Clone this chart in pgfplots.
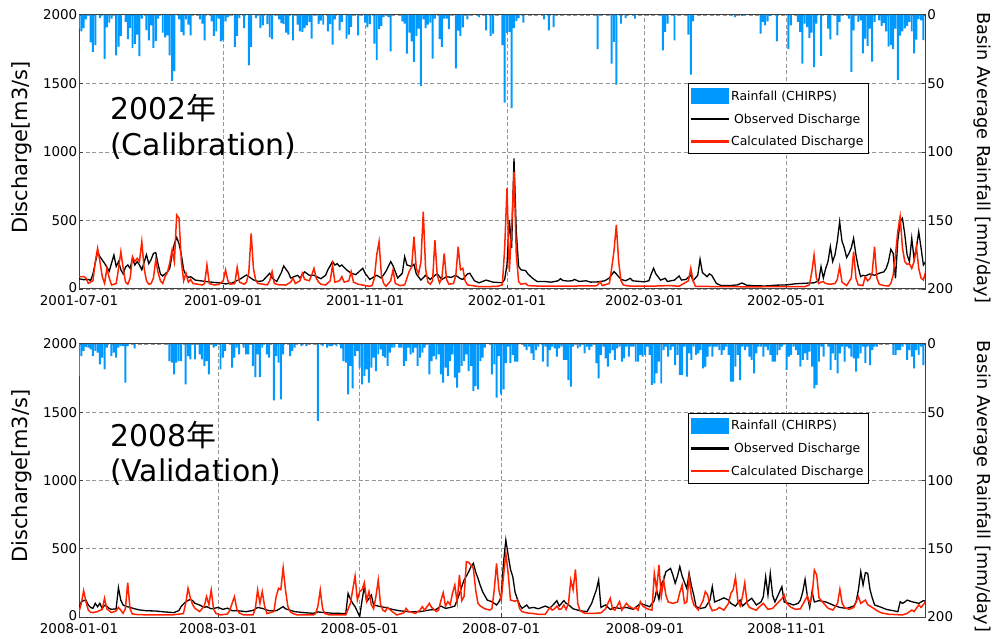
\documentclass[border=0pt]{standalone}
\usepackage{fontspec}
\setmainfont{DejaVu Sans}
\newfontfamily\cjk{Noto Sans CJK JP}
\usepackage{pgfplots}
\usepackage{pgfplotstable}
\pgfplotsset{compat=1.18}
\definecolor{rainblue}{RGB}{0,153,255}
\definecolor{calred}{RGB}{255,34,0}
\definecolor{gridgray}{RGB}{150,150,150}

% ---------------- 2002 (calibration) ----------------
\pgfplotstableread[row sep=\\]{x y\\0 10\\1 12\\2 9.5\\3 3.2\\5 20\\6 27\\7 22\\9 2.2\\11 32\\12 9\\13 5.6\\14 2.7\\16 29.4\\17 23\\18 15.3\\20 5.1\\21 17.7\\22 9.5\\23 24\\24 21\\25 14.3\\26 30\\27 2.7\\29 11\\30 18.5\\31 7.5\\32 24\\33 19\\34 2.7\\36 12.9\\37 16.3\\38 14.8\\39 29.4\\40 48\\41 41\\43 3.2\\44 12.4\\45 14.8\\46 3.2\\47 7\\48 14.8\\52 3.2\\53 6.3\\54 18.5\\57 4.6\\58 15.3\\59 11.9\\60 2.7\\61 19.2\\62 18.5\\63 4.6\\64 1.5\\67 23.3\\68 15.3\\69 2.2\\71 9.5\\73 36.7\\74 23.3\\76 2.2\\78 9.5\\79 7.5\\81 6.6\\82 16.3\\83 17.7\\86 3.2\\87 6\\88 6.6\\89 12.9\\90 14.3\\92 18.5\\94 7\\95 11.9\\96 12.4\\97 9.5\\98 7.5\\99 5.1\\100 17.3\\103 6.6\\104 4.1\\105 7\\107 11.9\\108 6.6\\109 21.6\\110 3.2\\112 11.2\\113 5.1\\115 17.3\\116 14.3\\117 8.7\\120 14.8\\123 5.6\\124 9\\125 6.6\\127 20.9\\128 33\\129 10.4\\130 8\\131 1.5\\133 1.5\\134 26.5\\139 4.6\\140 6.3\\141 28.2\\142 12.9\\143 19.2\\144 34.3\\145 15.3\\146 9.9\\147 52\\148 3.2\\149 9.5\\150 7\\151 5.6\\152 31.8\\153 2.7\\155 17.7\\156 23.3\\157 2.7\\158 2.7\\159 10.4\\162 39\\163 11.4\\164 15.3\\165 9\\167 3.2\\172 1.5\\175 11.2\\177 15.3\\178 13.6\\182 22\\183 64\\184 13\\185 12.4\\186 68\\187 9.5\\188 4.4\\189 2.2\\191 5.6\\200 3.2\\202 11.2\\204 8.8\\223 25\\229 35.5\\230 19.7\\231 50.8\\233 6.3\\235 2.2\\239 2.7\\251 25.8\\252 12.4\\253 6.3\\256 18.5\\262 14.4\\263 43.6\\264 4.6\\282 1.5\\285 0.7\\293 13.6\\294 5.1\\295 7.5\\296 4.6\\297 0.7\\300 19.3\\305 25\\306 7.5\\309 5.1\\310 12.4\\311 35.5\\312 6.3\\313 8.8\\314 16.8\\315 12.9\\316 38\\317 6.3\\319 29.9\\322 10\\323 17.8\\326 14.8\\327 5.1\\331 2.7\\332 41.6\\333 11.2\\335 5.1\\336 3.9\\337 28\\338 17.3\\339 22.6\\340 10\\341 34\\342 5\\344 4\\345 8\\346 6\\347 12\\348 23\\349 22\\350 25\\351 10\\352 47.5\\353 15\\354 12\\355 9.7\\356 8\\357 5\\358 12\\359 28\\360 18\\361 3\\362 4\\363 18.3\\}\rainA

\pgfplotstableread[row sep=\\]{x y\\0 75\\2 68\\4 70\\5 62\\6 110\\8 270\\9 236\\11 187\\13 130\\15 248\\16 165\\17 200\\18 140\\19 110\\20 160\\21 175\\22 150\\23 224\\24 175\\25 200\\26 175\\27 140\\29 250\\30 185\\31 215\\32 260\\33 265\\34 180\\35 110\\36 95\\37 110\\38 125\\39 150\\40 250\\41 330\\42 377\\43 330\\44 250\\45 140\\46 100\\47 85\\48 90\\50 65\\54 56\\58 48\\61 44\\63 37\\66 45\\69 70\\72 102\\75 66\\77 55\\79 60\\82 115\\83 80\\85 55\\87 120\\88 168\\90 120\\91 80\\94 100\\95 80\\97 125\\99 100\\101 100\\104 75\\106 100\\107 140\\109 200\\110 175\\111 185\\112 165\\113 175\\115 140\\117 115\\119 105\\122 151\\123 115\\125 70\\128 100\\130 80\\132 130\\134 200\\135 170\\137 80\\139 115\\140 236\\141 175\\143 165\\144 180\\145 110\\147 65\\149 100\\151 70\\153 100\\154 110\\156 70\\158 90\\160 85\\162 100\\164 75\\165 70\\167 110\\168 115\\170 60\\172 45\\175 65\\178 50\\182 46\\183 70\\184 180\\185 504\\186 300\\187 954\\188 420\\189 165\\190 140\\192 134\\193 110\\195 78\\197 54\\200 55\\203 50\\206 60\\207 75\\208 62\\210 58\\212 60\\213 70\\215 55\\218 60\\220 50\\223 52\\226 60\\228 80\\230 127\\231 110\\233 70\\235 60\\237 78\\238 60\\241 55\\243 52\\245 60\\246 110\\247 151\\248 110\\250 65\\252 78\\253 55\\256 65\\258 95\\259 65\\261 70\\263 102\\264 60\\266 100\\267 217\\268 120\\270 90\\271 110\\272 100\\274 41\\276 25\\280 25\\283 30\\285 44\\287 28\\290 24\\295 22\\300 28\\304 30\\308 38\\312 42\\316 45\\318 60\\319 163\\320 80\\321 150\\322 200\\323 309\\324 200\\325 250\\326 350\\327 491\\328 350\\329 300\\330 230\\331 260\\332 300\\333 370\\334 250\\335 160\\336 90\\337 100\\338 95\\340 110\\342 100\\344 115\\346 125\\347 150\\348 200\\349 290\\350 260\\351 78\\352 350\\353 491\\354 516\\355 400\\356 250\\357 200\\358 370\\359 220\\360 300\\361 418\\362 300\\363 175\\364 200\\}\obsA

\pgfplotstableread[row sep=\\]{x y\\0 90\\2 90\\3 80\\4 41\\6 60\\7 200\\8 297\\9 200\\10 90\\11 41\\12 151\\13 80\\14 29\\16 40\\17 150\\18 272\\19 150\\20 50\\21 35\\22 80\\23 236\\24 200\\25 224\\26 200\\27 346\\28 150\\29 60\\30 35\\31 40\\32 80\\33 212\\34 120\\35 60\\36 40\\37 90\\38 120\\39 190\\40 285\\41 200\\42 540\\43 516\\44 200\\45 60\\46 115\\47 50\\48 70\\49 40\\51 35\\53 29\\54 40\\55 175\\56 40\\58 30\\60 32\\62 60\\63 139\\64 60\\65 35\\67 40\\68 158\\69 50\\71 35\\72 50\\73 120\\74 406\\75 150\\76 60\\77 40\\79 35\\81 30\\82 60\\83 127\\84 40\\86 30\\89 29\\91 50\\92 78\\93 40\\95 60\\96 115\\97 70\\99 60\\100 100\\101 151\\102 80\\103 50\\104 35\\106 29\\108 60\\109 175\\110 50\\112 60\\113 90\\114 50\\116 60\\117 127\\118 50\\120 35\\123 25\\125 20\\126 25\\127 80\\128 250\\129 346\\130 100\\131 40\\132 20\\134 60\\135 139\\136 40\\138 25\\140 30\\141 80\\142 130\\143 160\\144 382\\145 150\\146 110\\147 200\\148 564\\149 150\\150 50\\151 35\\152 60\\153 357\\154 100\\155 45\\156 80\\157 260\\158 70\\159 35\\161 40\\162 100\\163 309\\164 140\\165 151\\166 60\\167 30\\169 25\\172 17\\176 17\\180 20\\182 30\\183 300\\184 735\\185 126\\186 450\\187 856\\188 250\\189 53\\190 35\\192 41\\193 25\\196 22\\205 20\\215 22\\222 22\\223 30\\224 53\\225 25\\228 40\\229 151\\230 280\\231 467\\232 200\\233 60\\234 30\\236 22\\245 20\\254 25\\258 20\\262 60\\263 151\\264 60\\265 20\\275 17\\290 16\\300 17\\312 17\\314 30\\315 120\\316 248\\317 80\\318 40\\319 50\\320 53\\321 40\\323 35\\325 40\\326 70\\327 163\\328 50\\330 25\\332 80\\333 272\\334 80\\335 30\\337 25\\338 90\\339 60\\340 75\\341 120\\342 309\\343 80\\344 35\\346 25\\348 22\\349 40\\350 100\\351 250\\352 420\\353 528\\354 300\\355 200\\356 180\\357 185\\358 150\\359 200\\360 309\\361 150\\362 80\\363 66\\364 127\\}\calA

% ---------------- 2008 (validation) ----------------
\pgfplotstableread[row sep=\\]{x y\\0 23.4\\1 8.8\\2 5.1\\3 2.2\\4 2.7\\5 3.9\\6 8.8\\7 5.1\\8 6.3\\9 15\\10 10\\11 18.6\\12 2.7\\14 8.8\\15 6.3\\16 10\\17 2.7\\18 1.5\\19 1.5\\20 28.3\\21 1.5\\24 3.2\\39 12.5\\40 13.7\\41 22.2\\42 13.7\\43 12.5\\44 12.5\\46 29.5\\47 8.8\\48 11.2\\50 11.2\\52 7.6\\53 11.2\\54 16.1\\55 12.5\\56 22.2\\58 2.7\\59 1.5\\61 18.6\\62 10\\63 5.1\\66 17.3\\67 10\\68 2.7\\69 7.6\\71 2.7\\72 7.6\\73 7.6\\75 16.1\\76 24.2\\77 7.6\\78 24.2\\79 2.7\\81 7.6\\82 10\\84 41.3\\85 8.8\\86 13.7\\87 40.5\\88 7.6\\91 8.8\\92 5.1\\93 2.7\\96 1.5\\98 1.5\\103 56.4\\105 1.5\\107 2.7\\108 1.5\\109 1.5\\111 1.5\\113 3.2\\114 12.5\\115 13.7\\116 36.9\\117 16.1\\118 32.5\\119 8.8\\120 5.1\\121 17.3\\122 29.5\\123 23.4\\124 18.6\\125 28.3\\126 17.3\\127 10\\128 19.8\\129 7.6\\130 3.9\\131 8.8\\132 10\\133 16.1\\134 6.3\\135 2.7\\136 2.7\\138 2.7\\139 2.7\\140 16.1\\141 12.5\\142 2.7\\143 7.6\\144 6.3\\145 2.7\\146 16.1\\147 10\\148 6.3\\149 2.7\\151 22.2\\152 12.5\\153 8.8\\154 11.2\\155 7.6\\156 22.2\\157 28.3\\158 17.3\\159 23.4\\160 12.5\\161 7.6\\162 24.7\\163 32\\164 21\\165 16.1\\166 12.5\\167 7.6\\168 19.8\\169 16.1\\170 34.4\\171 30.8\\172 33.2\\173 12.5\\174 10\\175 2.7\\178 22.2\\179 14.9\\180 39.3\\181 8.8\\182 36.9\\183 33.2\\184 14.1\\185 2\\186 14.1\\187 8\\188 12.9\\189 12.9\\192 2\\193 4.4\\194 2\\195 6.8\\196 11.7\\197 4.4\\198 2\\200 12.9\\201 2\\202 16.6\\203 4.4\\204 2\\205 3.2\\206 9.3\\207 3.2\\208 2\\209 11.7\\210 11.7\\211 26.4\\212 31.2\\213 2\\215 3.2\\216 2\\218 6.8\\219 2\\220 4.4\\221 2\\223 14.1\\224 25.1\\225 8\\226 2\\227 10.5\\228 16.6\\229 6.8\\230 4.4\\231 11.7\\232 3.2\\233 2\\234 12.9\\235 10.5\\236 2\\237 9.3\\238 2\\239 2\\240 12.9\\241 12.9\\242 8\\243 9.3\\244 8\\245 2\\246 8\\247 30\\248 28.8\\249 21.5\\250 12.9\\251 28.8\\252 4.4\\253 2\\254 9.3\\255 4.4\\256 2\\257 15.4\\258 8\\259 22.7\\260 22.7\\261 2\\262 23.9\\263 6.8\\264 11.7\\265 2\\266 8\\267 6.8\\268 4.4\\269 17.8\\270 16.6\\271 9.3\\272 2\\273 9.3\\274 2\\275 2\\276 4.4\\277 8\\278 4.4\\279 2\\280 8\\281 27.6\\282 27.6\\283 16.6\\284 8\\285 26.4\\286 2\\287 4.4\\288 2\\289 9.3\\290 11.7\\291 21.5\\292 6.8\\293 2\\294 2\\295 9.3\\296 2\\297 4.4\\298 8\\299 12.9\\300 12.9\\301 8\\302 4.4\\303 2\\305 19\\306 9.3\\307 8\\308 2\\309 4.4\\310 8\\311 16.6\\312 11.7\\313 6.8\\314 11.7\\315 5.6\\316 16.6\\317 32.5\\318 30\\319 12.9\\320 2\\321 9.3\\323 2\\324 19\\325 6.8\\326 11.7\\327 21.5\\328 6.8\\329 2\\330 12.9\\331 2\\332 3.2\\333 9.3\\334 10.5\\335 20.3\\336 10.5\\337 6.8\\338 2\\339 14.1\\340 2\\341 15.4\\342 4.4\\343 2\\344 2\\351 8\\352 8\\353 4.4\\354 4.4\\355 2\\357 11.7\\358 4.4\\359 9.3\\360 17.8\\361 4.4\\362 8\\363 2\\364 15.4\\}\rainB

\pgfplotstableread[row sep=\\]{x y\\0 63\\1 112\\2 120\\3 124\\4 88\\5 70\\6 63\\7 100\\8 75\\9 100\\10 63\\11 85\\12 80\\13 63\\14 56\\16 60\\17 215\\18 124\\19 88\\20 80\\22 70\\24 60\\26 52\\29 46\\33 44\\37 37\\41 32\\42 40\\43 46\\44 76\\45 95\\46 112\\48 129\\49 120\\50 100\\52 88\\54 70\\55 76\\57 60\\58 63\\60 70\\62 56\\64 65\\66 46\\69 45\\72 39\\75 48\\77 70\\79 63\\82 46\\85 46\\86 55\\88 76\\89 60\\91 50\\93 39\\97 32\\101 27\\103 37\\106 32\\109 28\\112 27\\115 24\\116 173\\117 130\\118 100\\119 76\\120 40\\121 3\\122 120\\123 222\\124 112\\125 135\\126 161\\127 88\\129 80\\130 76\\132 70\\135 56\\138 46\\142 39\\147 39\\151 51\\154 56\\156 80\\158 63\\160 70\\162 80\\163 124\\164 170\\165 222\\166 271\\167 300\\168 332\\169 370\\170 393\\171 330\\172 283\\173 230\\174 185\\176 124\\178 112\\180 88\\181 110\\182 149\\183 400\\184 564\\185 454\\186 350\\187 295\\188 180\\189 130\\190 88\\191 63\\193 88\\194 65\\196 70\\198 60\\201 80\\203 65\\205 100\\206 120\\207 80\\209 120\\210 100\\211 90\\213 60\\216 46\\219 39\\221 100\\222 150\\223 198\\224 271\\225 70\\226 80\\227 88\\229 55\\231 70\\233 63\\236 70\\239 56\\242 100\\244 88\\246 75\\248 120\\249 198\\250 130\\251 240\\252 271\\253 332\\255 356\\256 308\\257 247\\258 300\\259 369\\260 300\\262 210\\263 320\\264 230\\265 161\\266 76\\268 63\\270 70\\272 124\\273 222\\274 110\\276 124\\278 140\\280 124\\281 100\\283 80\\285 124\\286 80\\288 112\\290 137\\292 88\\294 110\\295 149\\296 295\\297 160\\298 320\\299 160\\300 110\\303 222\\304 110\\306 100\\308 88\\310 100\\311 124\\312 185\\313 276\\314 150\\315 70\\316 185\\317 110\\319 120\\322 110\\325 88\\328 70\\331 63\\334 80\\335 112\\336 200\\337 332\\338 234\\339 325\\340 320\\341 200\\342 137\\343 88\\346 70\\348 56\\351 46\\353 39\\354 112\\355 100\\356 110\\357 124\\359 112\\362 100\\364 120\\365 115\\}\obsB

\pgfplotstableread[row sep=\\]{x y\\0 39\\1 100\\2 193\\3 112\\4 51\\5 35\\6 32\\8 40\\10 56\\11 137\\12 60\\14 32\\16 45\\17 70\\18 50\\19 27\\20 60\\21 251\\22 60\\23 22\\25 18\\30 15\\40 15\\45 25\\46 100\\47 210\\48 140\\49 90\\50 63\\52 40\\54 80\\55 149\\56 90\\57 198\\58 60\\59 27\\61 15\\64 22\\65 50\\66 100\\67 149\\68 60\\69 30\\71 15\\75 15\\76 60\\77 198\\78 100\\79 186\\80 80\\81 25\\84 40\\85 150\\86 210\\87 200\\88 361\\89 200\\90 80\\91 40\\92 27\\94 15\\101 15\\102 25\\103 80\\104 198\\105 60\\106 25\\108 15\\115 15\\117 100\\118 200\\119 300\\120 124\\121 186\\122 200\\123 251\\124 120\\125 186\\126 90\\127 60\\128 150\\129 271\\130 90\\131 50\\132 40\\133 70\\135 40\\137 15\\140 30\\141 63\\142 40\\145 27\\147 50\\148 76\\149 50\\151 100\\152 70\\154 40\\155 50\\156 120\\157 178\\158 80\\159 112\\160 90\\161 173\\162 234\\163 110\\164 308\\165 120\\166 150\\167 405\\168 400\\169 380\\170 356\\171 198\\172 100\\173 80\\175 60\\177 51\\178 60\\179 200\\180 393\\181 200\\182 124\\183 300\\184 466\\185 320\\186 124\\187 120\\188 115\\189 124\\190 60\\191 39\\193 30\\195 27\\198 20\\201 20\\203 70\\204 50\\205 60\\206 80\\207 55\\208 60\\209 88\\210 55\\211 100\\212 271\\213 200\\214 349\\215 100\\216 46\\218 27\\222 27\\225 30\\227 60\\228 100\\229 137\\230 60\\231 50\\232 80\\233 112\\234 50\\236 100\\237 80\\239 60\\240 70\\241 50\\242 112\\243 80\\245 60\\247 50\\248 320\\249 200\\250 381\\251 150\\252 271\\253 160\\254 110\\256 100\\258 110\\259 180\\260 234\\261 100\\262 110\\263 295\\264 150\\265 90\\267 51\\269 120\\270 186\\271 161\\272 80\\273 46\\275 56\\276 70\\278 50\\280 100\\281 173\\282 200\\283 290\\284 120\\285 80\\286 150\\287 251\\288 100\\289 70\\291 56\\292 50\\293 70\\295 100\\297 56\\299 63\\301 100\\303 134\\304 161\\305 100\\307 70\\309 56\\311 60\\313 124\\314 154\\315 100\\316 150\\317 344\\318 308\\319 140\\321 100\\323 63\\325 51\\327 100\\328 203\\329 100\\330 70\\332 56\\334 70\\336 149\\337 100\\339 124\\340 90\\342 70\\344 46\\346 30\\349 20\\355 15\\357 27\\359 51\\360 40\\362 88\\363 70\\365 112\\}\calB

\pgfplotsset{
  common/.style={
    scale only axis, width=846.7bp, anchor=south west,
    axis line style={black!75, line width=1bp},
    tick style={black!75, line width=0.8bp},
    major tick length=4bp, tick align=inside,
    ticklabel style={font=\fontsize{13.5}{13.5}\selectfont},
    /pgf/number format/assume math mode=true,
  },
  qaxis/.style={
    common,
    ymin=0, ymax=2000, ytick={0,500,1000,1500,2000},
    yticklabels={\raisebox{3bp}{0},500,1000,1500,2000},
    ytick pos=left, xtick pos=bottom,
    grid=major,
    major grid style={gridgray, dash pattern=on 4bp off 2.5bp, line width=0.8bp},
    yticklabel style={inner xsep=1.5bp, inner ysep=0bp},
    xticklabel style={inner ysep=0bp, yshift=-6bp},
    ylabel={Discharge[m3/s]},
    ylabel style={font=\fontsize{21}{21}\selectfont, anchor=center, at={([xshift=-57bp]rel axis cs:0,0.516)}},
    legend cell align=left,
    legend style={at={(0.719,0.751)}, anchor=north west, draw=black, line width=0.9bp, fill=white,
      font=\fontsize{12.5}{14}\selectfont, inner xsep=3bp, inner ysep=4.5bp, row sep=7.5bp},
  },
  raxis/.style={
    common,
    ymin=0, ymax=200, y dir=reverse,
    ytick={0,50,100,150,200},
    yticklabels={0,50,100,150,200},
    hide x axis, axis y line*=right,
    yticklabel style={inner xsep=1.5bp},
    ylabel={Basin Average Rainfall [mm/day]},
    ylabel style={font=\fontsize{17.8}{17.8}\selectfont, anchor=center, rotate=180, at={([xshift=56.3bp]rel axis cs:1,0.478)}},
  },
  rainleg/.style={legend image code/.code={\fill[rainblue] (0bp,-7.5bp) rectangle (37bp,7.5bp);}},
  obsleg/.style={legend image code/.code={\fill[black] (0bp,-0.8bp) rectangle (37bp,0.8bp);}},
  calleg/.style={legend image code/.code={\fill[calred] (0bp,-0.8bp) rectangle (37bp,0.8bp);}},
}

\begin{document}
\begin{tikzpicture}
% ===== Top panel =====
\begin{axis}[qaxis, at={(79bp,350bp)}, height=274bp, xmin=0, xmax=364,
  xtick={0,62,123,184,243,304},
  xticklabels={2001-07-01,2001-09-01,2001-11-01,2002-01-01,2002-03-01,2002-05-01}]
  \addlegendimage{rainleg}
  \addlegendentry{Rainfall (CHIRPS)}
  \addlegendimage{obsleg}
  \addlegendentry{\hspace{3bp}Observed Discharge}
  \addlegendimage{calleg}
  \addlegendentry{Calculated Discharge}
  \addplot[black, line width=1.3bp, forget plot] table[x=x,y=y] {\obsA};
  \addplot[calred, line width=1.5bp, forget plot] table[x=x,y=y] {\calA};
  \node[anchor=base west, font=\fontsize{30}{30}\selectfont, inner sep=0pt] at (rel axis cs:0.0366,0.620) {2002{\cjk 年}};
  \node[anchor=base west, font=\fontsize{30}{30}\selectfont, inner sep=0pt] at (rel axis cs:0.0366,0.489) {(Calibration)};
\end{axis}
\begin{axis}[raxis, at={(79bp,350bp)}, height=274bp, xmin=0, xmax=364]
  \addplot[ybar, bar width=0.85, fill=rainblue, draw=none] table[x=x,y=y] {\rainA};
\end{axis}
% ===== Bottom panel =====
\begin{axis}[qaxis, at={(79bp,22bp)}, height=273bp, xmin=0, xmax=365,
  xtick={0,60,121,182,244,305},
  xticklabels={2008-01-01,2008-03-01,2008-05-01,2008-07-01,2008-09-01,2008-11-01},
  legend style={at={(0.719,0.748)}}]
  \addlegendimage{rainleg}
  \addlegendentry{Rainfall (CHIRPS)}
  \addlegendimage{obsleg}
  \addlegendentry{\hspace{3bp}Observed Discharge}
  \addlegendimage{calleg}
  \addlegendentry{Calculated Discharge}
  \addplot[black, line width=1.3bp, forget plot] table[x=x,y=y] {\obsB};
  \addplot[calred, line width=1.5bp, forget plot] table[x=x,y=y] {\calB};
  \node[anchor=base west, font=\fontsize{30}{30}\selectfont, inner sep=0pt] at (rel axis cs:0.0366,0.623) {2008{\cjk 年}};
  \node[anchor=base west, font=\fontsize{30}{30}\selectfont, inner sep=0pt] at (rel axis cs:0.0366,0.495) {(Validation)};
\end{axis}
\begin{axis}[raxis, at={(79bp,22bp)}, height=273bp, xmin=0, xmax=365]
  \addplot[ybar, bar width=0.85, fill=rainblue, draw=none] table[x=x,y=y] {\rainB};
\end{axis}
\pgfresetboundingbox
\path[use as bounding box] (0,0) rectangle (993bp,639bp);
\end{tikzpicture}
\end{document}
